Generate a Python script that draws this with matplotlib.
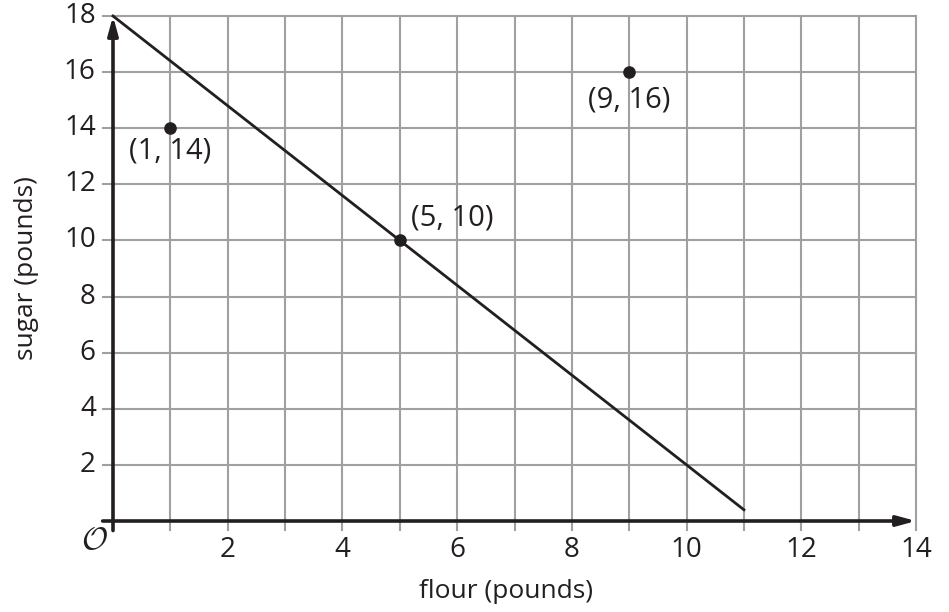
import matplotlib.pyplot as plt
import numpy as np

plt.rcParams['font.family'] = ['Open Sans', 'DejaVu Sans']
plt.rcParams['mathtext.fontset'] = 'cm'

# data
line_x = [0, 11]
line_y = [18, 0.4]
pts_x = [1, 5, 9]
pts_y = [14, 10, 16]
pt_labels = ["(1, 14)", "(5, 10)", "(9, 16)"]
x_ticks = [2, 4, 6, 8, 10, 12, 14]
y_ticks = [2, 4, 6, 8, 10, 12, 14, 16, 18]

fig = plt.figure(figsize=(9.49, 6.12), dpi=100)
ax = fig.add_axes([113 / 949, 91 / 612, 803 / 949, 505 / 612])
ax.set_xlim(0, 14)
ax.set_ylim(0, 18)
ax.axis("off")

ink = "#231f20"
grid_c = "#a0a0a0"
# grid: vertical every 1, horizontal every 2
for gx in range(1, 15):
    ax.plot([gx, gx], [-0.32, 18], color=grid_c, lw=1.5, clip_on=False, zorder=1)
for gy in range(2, 19, 2):
    ax.plot([-0.17, 14], [gy, gy], color=grid_c, lw=1.5, clip_on=False, zorder=1)

# axes with arrows
ax.annotate("", xy=(14, 0), xytext=(-0.18, 0),
            arrowprops=dict(arrowstyle="-|>,head_length=1.1,head_width=0.3",
                            color=ink, lw=2.6, shrinkA=0, shrinkB=0),
            annotation_clip=False, zorder=3)
ax.annotate("", xy=(0, 18), xytext=(0, -0.34),
            arrowprops=dict(arrowstyle="-|>,head_length=1.1,head_width=0.3",
                            color=ink, lw=2.6, shrinkA=0, shrinkB=0),
            annotation_clip=False, zorder=3)

# tick labels
for t in x_ticks:
    ax.text(t, -1.05, str(t), ha="center", va="center", fontsize=20, color=ink)
for t in y_ticks:
    ax.text(-0.3, t, str(t), ha="right", va="center", fontsize=20, color=ink)
ax.text(-0.33, -0.7, r"$\mathcal{O}$", ha="center", va="center", fontsize=23, color=ink)

ax.text(6.85, -2.5, "flour (pounds)", ha="center", va="center", fontsize=19, color=ink)
ax.text(-1.5, 9, "sugar (pounds)", ha="center", va="center", rotation=90,
        fontsize=19, color=ink)

# line and points
ax.plot(line_x, line_y, color=ink, lw=2, clip_on=False, zorder=4)
ax.scatter(pts_x, pts_y, s=65, color=ink, zorder=5, clip_on=False)

offsets = [(0, -0.8, "center"), (0.2, 0.8, "left"), (0, -1.0, "center")]
for x, y, lab, (dx, dy, ha) in zip(pts_x, pts_y, pt_labels, offsets):
    ax.text(x + dx, y + dy, lab, ha=ha, va="center", fontsize=21, color=ink)

fig.savefig("out.png", dpi=100)
